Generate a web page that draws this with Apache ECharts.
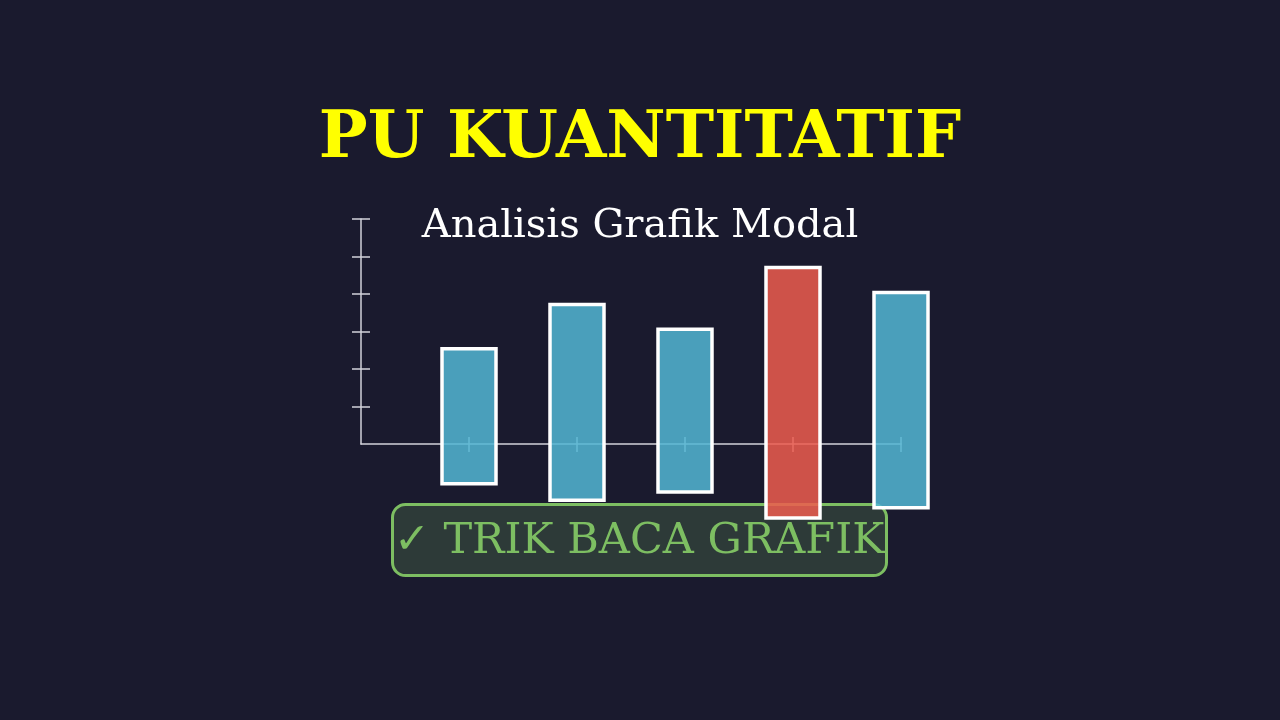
<!DOCTYPE html>
<html>
<head>
<meta charset="utf-8">
<script src="https://cdn.jsdelivr.net/npm/echarts@6/dist/echarts.min.js"></script>
<style>
html,body{margin:0;padding:0;background:#1a1a2e;}
#chart{width:1280px;height:720px;}
</style>
</head>
<body>
<div id="chart"></div>
<script>
// Data
var categories = [1, 2, 3, 4, 5];
var barLow  = [-1.06, -1.50, -1.28, -1.97, -1.70];
var barHigh = [2.54, 3.72, 3.06, 4.71, 4.04];
var highlightIndex = 3;
var yTicks = [1, 2, 3, 4, 5, 6];
var xTicks = [1, 2, 3, 4, 5];

var SERIF = '"DejaVu Serif", serif';
var chart = echarts.init(document.getElementById('chart'));

var barData = categories.map(function (c, i) { return [c, barLow[i], barHigh[i], i === highlightIndex ? 1 : 0]; });

var axisColor = '#d2d2da';

var option = {
  backgroundColor: '#1a1a2e',
  animation: false,
  title: [
    {
      text: 'PU KUANTITATIF', left: 'center', top: 103,
      textStyle: { color: '#ffff00', fontFamily: SERIF, fontWeight: 'bold', fontSize: 65 }
    },
    {
      text: 'Analisis Grafik Modal', left: 'center', top: 202,
      textStyle: { color: '#ffffff', fontFamily: SERIF, fontWeight: 'normal', fontSize: 40 }
    }
  ],
  grid: { left: 361, top: 219, width: 540, height: 225, containLabel: false },
  xAxis: [
    {
      type: 'value', min: 0, max: 5, interval: 1,
      axisLine: { show: true, lineStyle: { color: axisColor, width: 1.5 } },
      axisTick: { show: true, inside: true, length: 7, customValues: xTicks, lineStyle: { color: axisColor, width: 1.5 } },
      axisLabel: { show: false }, splitLine: { show: false }
    },
    {
      type: 'value', min: 0, max: 5, interval: 1, position: 'bottom', offset: 0,
      axisLine: { show: false },
      axisTick: { show: true, inside: false, length: 8, customValues: xTicks, lineStyle: { color: axisColor, width: 1.5 } },
      axisLabel: { show: false }, splitLine: { show: false }
    }
  ],
  yAxis: [
    {
      type: 'value', min: 0, max: 6, interval: 1,
      axisLine: { show: true, lineStyle: { color: axisColor, width: 1.5 } },
      axisTick: { show: true, inside: true, length: 9, customValues: yTicks, lineStyle: { color: axisColor, width: 1.5 } },
      axisLabel: { show: false }, splitLine: { show: false }
    },
    {
      type: 'value', min: 0, max: 6, interval: 1, position: 'left', offset: 0,
      axisLine: { show: false },
      axisTick: { show: true, inside: false, length: 9, customValues: yTicks, lineStyle: { color: axisColor, width: 1.5 } },
      axisLabel: { show: false }, splitLine: { show: false }
    }
  ],
  series: [
    {
      type: 'custom', clip: false, z: 5,
      encode: { x: 0, y: [1, 2] },
      data: barData,
      renderItem: function (params, api) {
        var x = api.value(0);
        var lo = api.coord([x, api.value(1)]);
        var hi = api.coord([x, api.value(2)]);
        var w = api.size([1, 0])[0] * 0.5;
        var red = api.value(3) === 1;
        return {
          type: 'rect',
          shape: { x: lo[0] - w / 2, y: hi[1], width: w, height: lo[1] - hi[1] },
          style: {
            fill: red ? 'rgba(236,92,78,0.86)' : 'rgba(83,182,211,0.86)',
            stroke: '#ffffff', lineWidth: 3.5
          }
        };
      }
    }
  ],
  graphic: [
    {
      type: 'group', z: 100,
      children: [
        {
          type: 'rect',
          shape: { x: 392.5, y: 504.5, width: 494, height: 71, r: 13 },
          style: { fill: 'rgba(125,190,98,0.2)', stroke: '#7dbe62', lineWidth: 3 }
        },
        {
          type: 'text',
          x: 639, y: 542,
          style: {
            text: '✓ TRIK BACA GRAFIK', fill: '#7dbe62', font: 'normal 43px "DejaVu Serif", serif',
            textAlign: 'center', textVerticalAlign: 'middle'
          }
        }
      ]
    }
  ]
};
chart.setOption(option);
</script>
</body>
</html>
